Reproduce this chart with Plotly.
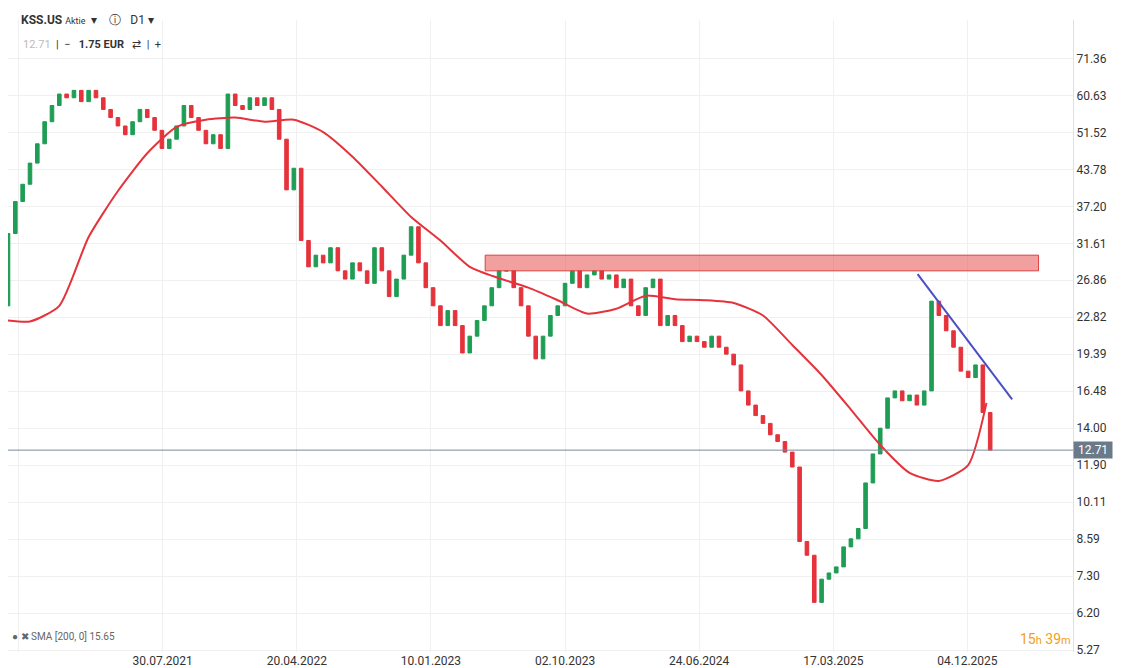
import plotly.graph_objects as go

# closes sampled every 10 trading days
start_day = -38
step = 10
closes = [24, 33, 38, 41, 45, 49, 54, 58, 61, 60, 62, 59, 62, 60, 57, 55, 53, 51, 54, 57,
          55, 52, 48, 50, 53, 58, 55, 52, 49, 51, 48, 61, 58, 57, 60, 58, 60, 57, 50, 40,
          44, 32, 28.5, 30, 29, 31, 28, 27, 29, 28, 26.5, 31, 28, 25, 27, 30, 34, 29, 26, 24,
          22, 23.5, 22, 19.5, 21, 22.5, 24, 26, 28, 28, 26, 24, 21, 19, 21, 23, 24, 26.5, 28, 26,
          27.5, 28, 27, 27.5, 26, 27, 24, 23, 26, 27, 22, 23, 22, 20.5, 21, 20.5, 20, 21, 20, 19.4,
          18.5, 16.5, 15.5, 14.8, 14.3, 13.6, 13.2, 12.6, 11.8, 8.5, 8.0, 6.5, 7.2, 7.4, 7.6, 8.3,
          8.6, 9.0, 11.0, 12.5, 14.0, 16.0, 16.5, 15.8, 16.2, 15.5, 16.5, 24.5, 23, 21.5, 20, 18,
          17.5, 18.5, 15, 12.71]
first_open = 23

sma_days = [-38, 2, 42, 82, 122, 162, 202, 242, 282, 322, 362, 402, 442, 482, 522, 562, 602,
            642, 682, 722, 762, 802, 842, 882, 922, 962, 1002, 1042, 1082, 1122, 1162, 1202,
            1242, 1282, 1307]
sma_vals = [22.6, 22.4, 24, 32.5, 39.8, 47, 52.8, 54.5, 55, 54, 54.5, 51.6, 46.3, 40.6, 35.5,
            32, 28.5, 27.1, 26, 24.6, 23.2, 23.7, 25.1, 24.7, 24.6, 24.3, 23, 20.2, 17.7, 15.2,
            13, 11.5, 11.1, 11.9, 14.8]
sma_last = 15.65

zone_days = [623, 1378]
zone_prices = [28.0, 30.0]
trend_days = [1213, 1342]
trend_prices = [27.6, 15.9]
last_price = 12.71

tick_days = [-14, 183, 366, 549, 732, 915, 1098, 1281, 1464]
tick_labels = ["06.11.2020", "30.07.2021", "20.04.2022", "10.01.2023", "02.10.2023",
               "24.06.2024", "17.03.2025", "04.12.2025", "08.07.2026"]
y_ticks = [71.36, 60.63, 51.52, 43.78, 37.20, 31.61, 26.86, 22.82, 19.39, 16.48, 14.00,
           11.90, 10.11, 8.59, 7.30, 6.20, 5.27]

days = [start_day + i * step for i in range(len(closes))]
opens = [first_open] + closes[:-1]
highs = [max(o, c) for o, c in zip(opens, closes)]
lows = [min(o, c) for o, c in zip(opens, closes)]

fig = go.Figure()
fig.add_trace(go.Candlestick(x=days, open=opens, high=highs, low=lows, close=closes,
                             increasing=dict(line=dict(color="#1f9d55", width=1), fillcolor="#1f9d55"),
                             decreasing=dict(line=dict(color="#e5323b", width=1), fillcolor="#e5323b"),
                             whiskerwidth=0, showlegend=False))
fig.add_trace(go.Scatter(x=sma_days, y=sma_vals[:34] + [sma_last], mode="lines",
                         line=dict(color="#e5323b", width=2, shape="spline", smoothing=0.6),
                         showlegend=False))
fig.add_trace(go.Scatter(x=trend_days, y=trend_prices, mode="lines", line=dict(color="#4a4fc4", width=2),
                         showlegend=False))
fig.add_shape(type="rect", x0=zone_days[0], x1=zone_days[1], y0=zone_prices[0], y1=zone_prices[1],
              fillcolor="rgba(232,80,80,0.55)", line=dict(color="#d84040", width=1))
fig.add_hline(y=last_price, line=dict(color="#7a8a99", width=1))

fig.update_layout(
    width=1141, height=668, margin=dict(l=0, r=76, t=12, b=24),
    plot_bgcolor="white", paper_bgcolor="white",
    font=dict(family="Roboto, Arial", size=12, color="#333"),
    xaxis=dict(range=[-28, 1425], tickvals=tick_days, ticktext=tick_labels, showgrid=True,
               gridcolor="#f0f0f0", rangeslider=dict(visible=False), zeroline=False, ticks="",
               ticklabelstandoff=0),
    yaxis=dict(type="log", range=[0.718, 1.927], side="right", tickvals=y_ticks,
               ticktext=["%.2f" % v for v in y_ticks], showgrid=True, gridcolor="#f0f0f0",
               zeroline=False, showline=True, linecolor="#e0e0e0"),
)
fig.add_annotation(xref="paper", yref="y", x=1.0, y=1.104, xanchor="left", showarrow=False,
                   text=" 12.71 ", bgcolor="#6b7a89", font=dict(color="white", size=12))
fig.add_annotation(xref="paper", yref="paper", x=0.01, y=1.015, xanchor="left", showarrow=False,
                   text="<b>KSS.US</b> <span style='font-size:9px'>Aktie</span>  ▾    ⓘ   D1 ▾",
                   font=dict(size=12, color="#333"))
fig.add_annotation(xref="paper", yref="paper", x=0.012, y=0.975, xanchor="left", showarrow=False,
                   text="<span style='color:#bbb'>12.71</span>  |  −   <b>1.75 EUR</b>   ⇄  |  +  "
                        "<span style='background:#1f9d55;color:white'><b>12.74</b></span>",
                   font=dict(size=11, color="#333"))
fig.add_annotation(xref="paper", yref="paper", x=0.002, y=0.012, xanchor="left", showarrow=False,
                   text="● ✖ SMA [200, 0] 15.65", font=dict(size=10, color="#666"))
fig.add_annotation(xref="paper", yref="paper", x=1.0, y=0.005, xanchor="right", showarrow=False,
                   text="15<span style='font-size:11px'>h</span> 39<span style='font-size:11px'>m</span>",
                   font=dict(size=14, color="#f0a020"))

fig.write_html("out.html")
